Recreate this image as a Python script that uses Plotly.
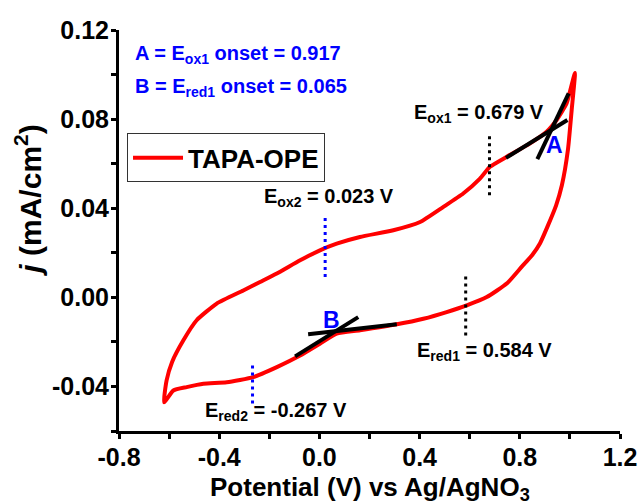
import plotly.graph_objects as go

# Cyclic voltammogram of TAPA-OPE: potential (V vs Ag/AgNO3) and current density (mA/cm2)
# Anodic sweep, from the negative vertex up to the positive vertex
v_anodic = [-0.620, -0.610, -0.588, -0.543, -0.490, -0.410, -0.304, -0.237, -0.170,
            -0.077, 0.002, 0.069, 0.162, 0.295, 0.402, 0.495, 0.574, 0.641, 0.681,
            0.748, 0.841, 0.907, 0.947, 0.987, 1.020]
j_anodic = [-0.0471, -0.0373, -0.0290, -0.0193, -0.0103, -0.0028, 0.0031, 0.0069, 0.0107,
            0.0166, 0.0211, 0.0241, 0.0271, 0.0301, 0.0338, 0.0406, 0.0466, 0.0533, 0.0586,
            0.0631, 0.0691, 0.0743, 0.0796, 0.0871, 0.1007]
# Cathodic sweep, from the positive vertex back to the negative vertex
v_cathodic = [1.020, 1.007, 0.992, 0.968, 0.945, 0.913, 0.881, 0.849, 0.809, 0.749,
              0.668, 0.588, 0.508, 0.415, 0.309, 0.162, 0.069, 0.002, -0.077, -0.170,
              -0.264, -0.370, -0.463, -0.530, -0.583, -0.620]
j_cathodic = [0.1007, 0.0840, 0.0661, 0.0503, 0.0413, 0.0324, 0.0243, 0.0189, 0.0139, 0.0063,
              0.0001, -0.0036, -0.0066, -0.0096, -0.0121, -0.0148, -0.0163, -0.0208, -0.0261,
              -0.0313, -0.0358, -0.0381, -0.0388, -0.0403, -0.0418, -0.0471]

# Tangent lines used for the onset potentials
tan_a1_v = [0.745, 0.990]
tan_a1_j = [0.0626, 0.0796]
tan_a2_v = [0.870, 0.995]
tan_a2_j = [0.0620, 0.0916]
tan_b1_v = [-0.045, 0.309]
tan_b1_j = [-0.0166, -0.0121]
tan_b2_v = [-0.097, 0.155]
tan_b2_j = [-0.0265, -0.0089]

# Peak potentials (V) and the vertical extent of their markers
e_ox1, e_ox1_span = 0.679, [0.0458, 0.0733]
e_red1, e_red1_span = 0.584, [-0.0171, 0.0099]
e_ox2, e_ox2_span = 0.023, [0.0091, 0.0364]
e_red2, e_red2_span = -0.267, [-0.0476, -0.0298]

onset_ox1 = 0.917
onset_red1 = 0.065

x_range = [-0.8, 1.2]
y_range = [-0.06, 0.12]
x_ticks = [-0.8, -0.4, 0.0, 0.4, 0.8, 1.2]
x_ticktext = ["-0.8", "-0.4", "0.0", "0.4", "0.8", "1.2"]
y_ticks = [-0.04, 0.00, 0.04, 0.08, 0.12]
y_ticktext = ["-0.04", "0.00", "0.04", "0.08", "0.12"]

FONT = "Liberation Sans, Arial, sans-serif"
RED = "#FF0000"
BLUE = "#0000FF"

fig = go.Figure()

fig.add_trace(go.Scatter(
    x=v_anodic + v_cathodic[1:], y=j_anodic + j_cathodic[1:],
    mode="lines", name="TAPA-OPE",
    line=dict(color=RED, width=4, shape="spline", smoothing=0.5),
))

for tv, tj in [(tan_a1_v, tan_a1_j), (tan_a2_v, tan_a2_j),
               (tan_b1_v, tan_b1_j), (tan_b2_v, tan_b2_j)]:
    fig.add_trace(go.Scatter(x=tv, y=tj, mode="lines", showlegend=False,
                             line=dict(color="black", width=4)))

for e, span, col in [(e_ox1, e_ox1_span, "black"), (e_red1, e_red1_span, "black"),
                     (e_ox2, e_ox2_span, BLUE), (e_red2, e_red2_span, BLUE)]:
    fig.add_trace(go.Scatter(x=[e, e], y=span, mode="lines", showlegend=False,
                             line=dict(color=col, width=3, dash="3px,4px")))

def label(x, y, text, color="black", size=20, xanchor="left"):
    fig.add_annotation(x=x, y=y, xref="x", yref="y", text=text, showarrow=False,
                       xanchor=xanchor, yanchor="middle",
                       font=dict(family=FONT, size=size, color=color, weight="bold"))

label(-0.744, 0.1088, f"A = E<sub>ox1</sub> onset = {onset_ox1:.3f}", BLUE)
label(-0.744, 0.0944, f"B = E<sub>red1</sub> onset = {onset_red1:.3f}", BLUE)
label(0.370, 0.0827, f"E<sub>ox1</sub> = {e_ox1:.3f} V")
label(-0.229, 0.0449, f"E<sub>ox2</sub> = {e_ox2:.3f} V")
label(0.382, -0.0243, f"E<sub>red1</sub> = {e_red1:.3f} V")
label(-0.465, -0.0512, f"E<sub>red2</sub> = {e_red2:.3f} V")
label(0.940, 0.0683, "A", BLUE, 23, "center")
label(0.048, -0.0101, "B", BLUE, 23, "center")

# Axis titles placed just outside the plotting area
fig.add_annotation(x=0.5, y=-0.143, xref="paper", yref="paper",
                   text="Potential (V) vs Ag/AgNO<sub>3</sub>", showarrow=False,
                   xanchor="center", yanchor="middle",
                   font=dict(family=FONT, size=26, color="black", weight="bold"))
fig.add_annotation(x=-0.182, y=0.574, xref="paper", yref="paper",
                   text="<i>j</i> (mA/cm<sup>2</sup>)", showarrow=False,
                   textangle=-90, xanchor="center", yanchor="middle",
                   font=dict(family=FONT, size=30, color="black", weight="bold"))

tick_font = dict(family=FONT, size=25, color="black", weight="bold")
minor_ticks = dict(ticks="outside", ticklen=5, tickwidth=3, tickcolor="black")

# Main axes carry the line, tick labels and minor ticks
axis_common = dict(
    showline=True, linecolor="black", linewidth=3, mirror=False,
    showgrid=False, zeroline=False, automargin=False,
    ticks="outside", ticklen=2, tickwidth=3, tickcolor="black",
    tickfont=tick_font,
)
fig.update_xaxes(range=x_range, tickvals=x_ticks, ticktext=x_ticktext,
                 minor=dict(dtick=0.2, **minor_ticks), **axis_common)
fig.update_yaxes(range=y_range, tickvals=y_ticks, ticktext=y_ticktext,
                 minor=dict(dtick=0.02, **minor_ticks), **axis_common)

# Overlay axes draw the longer major tick marks
major_ticks = dict(showline=False, showgrid=False, zeroline=False, showticklabels=False,
                   ticks="outside", ticklen=9, tickwidth=3, tickcolor="black",
                   automargin=False)
fig.update_layout(
    xaxis2=dict(overlaying="x", anchor="y", side="bottom", range=x_range,
                tickvals=x_ticks, **major_ticks),
    yaxis2=dict(overlaying="y", anchor="x", side="left", range=y_range,
                tickvals=y_ticks, **major_ticks),
)

fig.update_layout(
    width=643, height=504,
    margin=dict(l=119, r=23, t=30, b=73),
    paper_bgcolor="white", plot_bgcolor="white",
    showlegend=True,
    legend=dict(x=0.016, y=0.742, xanchor="left", yanchor="top",
                bordercolor="#333333", borderwidth=1, bgcolor="white",
                font=dict(family=FONT, size=26, color="black", weight="bold"),
                itemwidth=50, tracegroupgap=0),
)

fig.write_html("out.html")
